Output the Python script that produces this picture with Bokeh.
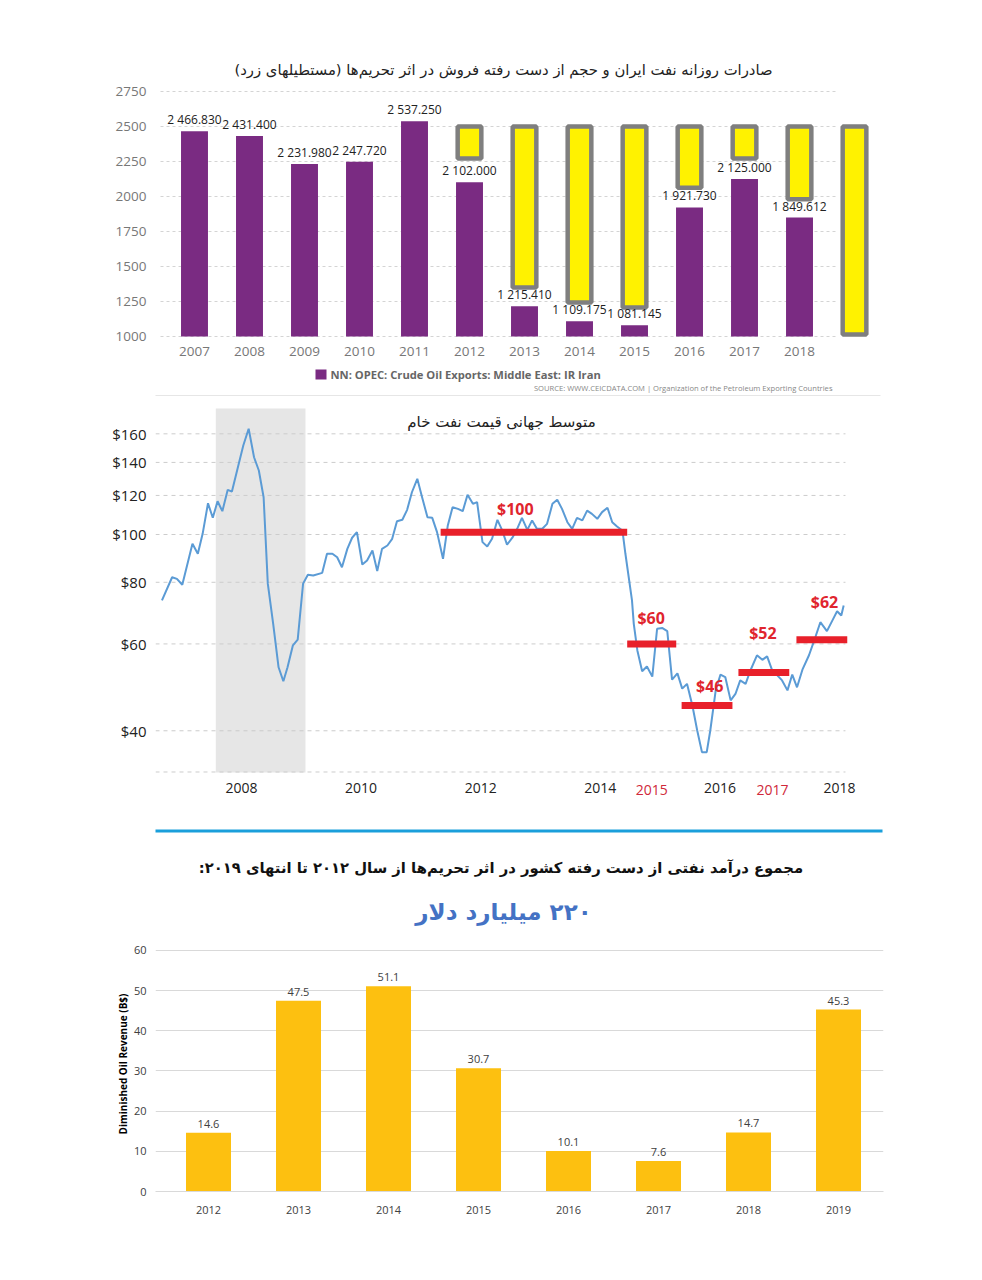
from bokeh.plotting import figure
from bokeh.models import FixedTicker, Range1d, LinearScale, NumeralTickFormatter
from bokeh.layouts import column
from bokeh.embed import file_html
from bokeh.resources import INLINE
from bokeh.core.properties import value

# ---------------- Panel 1 data: Iran daily crude exports ----------------
export_years = ["2007", "2008", "2009", "2010", "2011", "2012",
                "2013", "2014", "2015", "2016", "2017", "2018"]
export_values = [2466.830, 2431.400, 2231.980, 2247.720, 2537.250, 2102.000,
                 1215.410, 1109.175, 1081.145, 1921.730, 2125.000, 1849.612]
lost_slots = [5, 6, 7, 8, 9, 10, 11, 12]          # 2012..2018 + unlabeled extra slot
lost_bottom = [2271, 1350, 1243, 1207, 2062, 2271, 1981, 1015]
lost_top = [2500, 2500, 2500, 2500, 2500, 2500, 2500, 2500]
export_ticks = [1000, 1250, 1500, 1750, 2000, 2250, 2500, 2750]
export_legend = "NN: OPEC: Crude Oil Exports: Middle East: IR Iran"
export_source = "SOURCE: WWW.CEICDATA.COM | Organization of the Petroleum Exporting Countries"

# ---------------- Panel 2 data: crude oil price ----------------
price_x = [2006.67, 2006.84, 2006.92, 2007.01, 2007.18, 2007.27, 2007.35, 2007.44, 2007.52, 2007.60,
           2007.68, 2007.77, 2007.84, 2007.94, 2008.03, 2008.12, 2008.21, 2008.29, 2008.37, 2008.44,
           2008.53, 2008.62, 2008.70, 2008.77, 2008.86, 2008.94, 2009.03, 2009.11, 2009.20, 2009.35,
           2009.43, 2009.52, 2009.60, 2009.68, 2009.77, 2009.85, 2009.93, 2010.02, 2010.10, 2010.19,
           2010.27, 2010.35, 2010.44, 2010.52, 2010.60, 2010.69, 2010.77, 2010.85, 2010.94, 2011.02,
           2011.11, 2011.19, 2011.27, 2011.37, 2011.45, 2011.53, 2011.62, 2011.70, 2011.78, 2011.87,
           2011.94, 2012.03, 2012.11, 2012.19, 2012.28, 2012.36, 2012.44, 2012.53, 2012.61, 2012.69,
           2012.78, 2012.86, 2012.94, 2013.03, 2013.11, 2013.20, 2013.28, 2013.36, 2013.45, 2013.53,
           2013.61, 2013.70, 2013.78, 2013.86, 2013.95, 2014.03, 2014.12, 2014.20, 2014.28, 2014.37,
           2014.42, 2014.53, 2014.56, 2014.62, 2014.70, 2014.78, 2014.87, 2014.95, 2015.04, 2015.12,
           2015.20, 2015.29, 2015.37, 2015.45, 2015.54, 2015.62, 2015.70, 2015.78, 2015.84, 2015.93,
           2016.01, 2016.09, 2016.18, 2016.26, 2016.34, 2016.43, 2016.51, 2016.62, 2016.71, 2016.79,
           2016.87, 2016.96, 2017.04, 2017.13, 2017.21, 2017.29, 2017.38, 2017.49, 2017.60, 2017.68,
           2017.79, 2017.88, 2017.96, 2018.03, 2018.07]
price_y = [73.5, 81.9, 81.3, 79.1, 95.8, 91.4, 100.3, 115.7, 108.1, 116.8,
           111.5, 123.2, 122.2, 136.9, 151.5, 163.8, 143.4, 134.8, 119.0, 79.5,
           65.9, 53.8, 50.4, 53.8, 59.6, 61.2, 79.5, 82.9, 82.6, 83.6,
           91.4, 91.4, 89.9, 85.8, 93.5, 98.5, 101.1, 86.9, 88.6, 92.8,
           84.3, 93.5, 95.0, 98.0, 106.4, 107.1, 112.2, 121.8, 129.7, 119.0,
           108.4, 108.1, 101.1, 89.3, 104.3, 113.6, 112.7, 111.5, 120.4, 115.4,
           116.3, 96.5, 94.6, 98.0, 107.1, 101.9, 95.4, 98.5, 102.7, 108.1,
           102.2, 106.8, 102.7, 102.7, 105.1, 115.4, 117.6, 112.7, 105.9, 102.7,
           108.1, 106.8, 111.8, 110.1, 107.6, 111.0, 113.3, 105.9, 103.8, 101.9,
           91.4, 73.5, 65.9, 58.2, 52.8, 54.0, 51.5, 64.4, 64.6, 63.7,
           50.8, 52.3, 48.7, 49.8, 45.0, 40.1, 36.2, 36.2, 40.1, 48.3,
           52.0, 51.4, 46.1, 47.5, 50.6, 49.8, 53.0, 56.9, 55.7, 56.6,
           53.2, 51.8, 50.6, 48.3, 52.0, 49.0, 53.2, 56.9, 62.1, 66.4,
           63.7, 66.9, 69.9, 68.5, 71.8]
price_ticks = [40, 60, 80, 100, 120, 140, 160]
price_grid = [33, 40, 60, 80, 100, 120, 140, 160]
year_ticks = [2008, 2010, 2012, 2014, 2016, 2018]
year_labels = ["2008", "2010", "2012", "2014", "2016", "2018"]
recession_start = 2007.57
recession_end = 2009.07
avg_start = [2011.33, 2014.45, 2015.36, 2016.31, 2017.28]
avg_end = [2014.45, 2015.27, 2016.21, 2017.16, 2018.13]
avg_level = [101.0, 60.0, 45.0, 52.5, 61.2]
avg_label_x = [2012.58, 2014.85, 2015.83, 2016.72, 2017.75]
avg_label_y = [112.9, 67.6, 49.2, 63.0, 72.8]
avg_text = ["$100", "$60", "$46", "$52", "$62"]
red_years = ["2015", "2017"]
red_years_x = [2014.86, 2016.88]

# ---------------- Panel 3 data: diminished oil revenue ----------------
loss_years = ["2012", "2013", "2014", "2015", "2016", "2017", "2018", "2019"]
loss_values = [14.6, 47.5, 51.1, 30.7, 10.1, 7.6, 14.7, 45.3]
loss_ticks = [0, 10, 20, 30, 40, 50, 60]

FA = "DejaVu Sans"
FL = "Open Sans"
RLM = "\u200f"
TITLE1 = RLM + "صادرات روزانه نفت ایران و حجم از دست رفته فروش در اثر تحریم\u200cها (مستطیلهای زرد)" + RLM
TITLE2 = RLM + "متوسط جهانی قیمت نفت خام" + RLM
TITLE3 = RLM + "مجموع درآمد نفتی از دست رفته کشور  در اثر تحریم\u200cها از سال ۲۰۱۲ تا انتهای ۲۰۱۹:" + RLM
TITLE4 = RLM + "۲۲۰ میلیارد دلار" + RLM

LEFT, RIGHT = 155, 883          # common frame edges (page pixels)
SPLIT = 936                     # page y where panel 3's canvas begins


def make_fig(height, top_px, bottom_px, x_range, y_range, border_bottom, **kw):
    """Figure whose frame spans LEFT..RIGHT; 'px'/'py' ranges map page pixels."""
    p = figure(width=982, height=height, x_range=x_range, y_range=y_range,
               output_backend="svg", toolbar_location=None,
               min_border_left=LEFT, min_border_right=982 - RIGHT,
               min_border_top=0, min_border_bottom=border_bottom, **kw)
    p.extra_x_ranges = {"px": Range1d(LEFT, RIGHT)}
    p.extra_y_ranges = {"py": Range1d(bottom_px, top_px)}
    p.extra_x_scales = {"px": LinearScale()}
    p.extra_y_scales = {"py": LinearScale()}
    p.outline_line_color = None
    p.xgrid.visible = False
    p.ygrid.visible = False
    return p


def style_axis(ax, size, color):
    ax.axis_line_color = None
    ax.major_tick_line_color = None
    ax.minor_tick_line_color = None
    ax.major_label_text_font = FL
    ax.major_label_text_font_size = size
    ax.major_label_text_color = color


def ptext(p, x, y, txt, size, color, font=FA, style="normal", align="center", xr="px"):
    p.text(x=[x], y=[y], text=[txt], x_range_name=xr, y_range_name="py",
           text_align=align, text_baseline="middle", text_font=value(font),
           text_font_size=size, text_font_style=style, text_color=color)


# ======================= Panel 1 (page y 0..360, frame 0..337) =======================
p1 = make_fig(360, 0, 337, Range1d(-0.709, 12.527), Range1d(992.86, 3400), 23)
idx = list(range(len(export_years)))
p1.segment(x0=[-0.618] * len(export_ticks), x1=[11.655] * len(export_ticks),
           y0=export_ticks, y1=export_ticks, line_color="#d4d4d4", line_dash="3 3", line_width=1)
p1.vbar(x=idx, top=export_values, bottom=1000, width=0.49, fill_color="#7a2b82", line_color=None)
p1.vbar(x=lost_slots, top=lost_top, bottom=lost_bottom, width=0.43,
        fill_color="#fff200", line_color="#7f7f7f", line_width=4.5)
p1.text(x=idx, y=export_values, text=[f"{v:,.3f}".replace(",", " ") for v in export_values],
        text_align="center", text_baseline="bottom", y_offset=-3,
        text_font=value(FL), text_font_size="12px", text_color="#222222")
p1.yaxis.ticker = FixedTicker(ticks=export_ticks)
p1.xaxis.ticker = FixedTicker(ticks=idx)
p1.xaxis.major_label_overrides = {i: y for i, y in enumerate(export_years)}
style_axis(p1.xaxis[0], "13.5px", "#777777")
style_axis(p1.yaxis[0], "13.5px", "#777777")
p1.yaxis.major_label_standoff = 3
p1.xaxis.major_label_standoff = 3
ptext(p1, 503, 69, TITLE1, "14.8px", "#222222")

# ======================= Panel 2 (page y 360..SPLIT, frame all) =======================
# log scale: $100 at page y 534, 214.24 px per e-fold -> top (360) = 225.3, bottom (936) = 15.31
p2 = make_fig(SPLIT - 360, 360, SPLIT, Range1d(2006.562, 2018.736), Range1d(15.31, 225.3), 0,
              y_axis_type="log")
# legend + source of panel 1
p2.quad(left=[315], right=[326], top=[369], bottom=[379], x_range_name="px", y_range_name="py",
        fill_color="#7a2b82", line_color=None)
ptext(p2, 330, 374, export_legend, "11.2px", "#666666", font=FL, style="bold", align="left")
ptext(p2, 832, 387, export_source, "7.6px", "#888888", font=FL, align="right")
p2.segment(x0=[115], x1=[880], y0=[395], y1=[395], x_range_name="px", y_range_name="py",
           line_color="#e6e6e6", line_width=1)
# chart
p2.quad(left=[recession_start], right=[recession_end], top=[408], bottom=[772], y_range_name="py",
        fill_color="#e6e6e6", line_color=None)
p2.segment(x0=[2006.562] * len(price_grid), x1=[2018.10] * len(price_grid), y0=price_grid, y1=price_grid,
           line_color="#cccccc", line_dash="4 4", line_width=1)
p2.line(price_x, price_y, line_color="#5b9bd5", line_width=2)
p2.segment(x0=avg_start, x1=avg_end, y0=avg_level, y1=avg_level, line_color="#e8202a",
           line_width=7, line_cap="butt")
p2.text(x=avg_label_x, y=avg_label_y, text=avg_text, text_align="center", text_baseline="middle",
        text_font=value(FL), text_font_size="16px", text_font_style="bold", text_color="#e0252e")
p2.yaxis.ticker = FixedTicker(ticks=price_ticks)
p2.yaxis.formatter = NumeralTickFormatter(format="$0")
style_axis(p2.yaxis[0], "15px", "#222222")
p2.yaxis.major_label_standoff = 3
p2.xaxis.visible = False
p2.text(x=year_ticks, y=[787] * len(year_ticks), text=year_labels, y_range_name="py",
        text_align="center", text_baseline="middle", text_font=value(FL), text_font_size="14px",
        text_color="#222222")
p2.text(x=red_years_x, y=[789] * len(red_years), text=red_years, y_range_name="py",
        text_align="center", text_baseline="middle", text_font=value(FL), text_font_size="14px",
        text_color="#d0283a")
ptext(p2, 501, 421, TITLE2, "15px", "#222222")
# separator + headline of panel 3
p2.quad(left=[115], right=[882], top=[829], bottom=[832], x_range_name="px", y_range_name="py",
        fill_color="#1a9fdb", line_color=None)
ptext(p2, 503, 867, TITLE3, "14.8px", "#111111", style="bold")
ptext(p2, 503, 911, TITLE4, "23px", "#4472c4", style="bold")

# ======================= Panel 3 (page y SPLIT..1280, frame SPLIT..1191) =======================
p3 = make_fig(1280 - SPLIT, SPLIT, 1191, Range1d(-0.5889, 7.5), Range1d(0, 60 + (950 - SPLIT) / 4.0167), 89)
lidx = list(range(len(loss_years)))
p3.ygrid.visible = True
p3.ygrid.ticker = FixedTicker(ticks=loss_ticks)
p3.ygrid.grid_line_color = "#d9d9d9"
p3.vbar(x=lidx, top=loss_values, width=0.5, fill_color="#fdc010", line_color=None)
p3.text(x=lidx, y=loss_values, text=[f"{v:.1f}" for v in loss_values], text_align="center",
        text_baseline="bottom", y_offset=-5, text_font=value(FL), text_font_size="11px", text_color="#404040")
p3.yaxis.ticker = FixedTicker(ticks=loss_ticks)
p3.xaxis.ticker = FixedTicker(ticks=lidx)
p3.xaxis.major_label_overrides = {i: y for i, y in enumerate(loss_years)}
style_axis(p3.xaxis[0], "11px", "#404040")
style_axis(p3.yaxis[0], "11px", "#404040")
p3.xaxis.axis_line_color = "#d9d9d9"
p3.yaxis.major_label_standoff = 3
p3.xaxis.major_label_standoff = 8
p3.yaxis.axis_label = "Diminished Oil Revenue (B$)"
p3.yaxis.axis_label_text_font = FL
p3.yaxis.axis_label_text_font_size = "10px"
p3.yaxis.axis_label_text_font_style = "bold"
p3.yaxis.axis_label_text_color = "#000000"
p3.yaxis.axis_label_standoff = 1

layout = column(p1, p2, p3, spacing=0)
open("out.html", "w").write(file_html(layout, INLINE))
